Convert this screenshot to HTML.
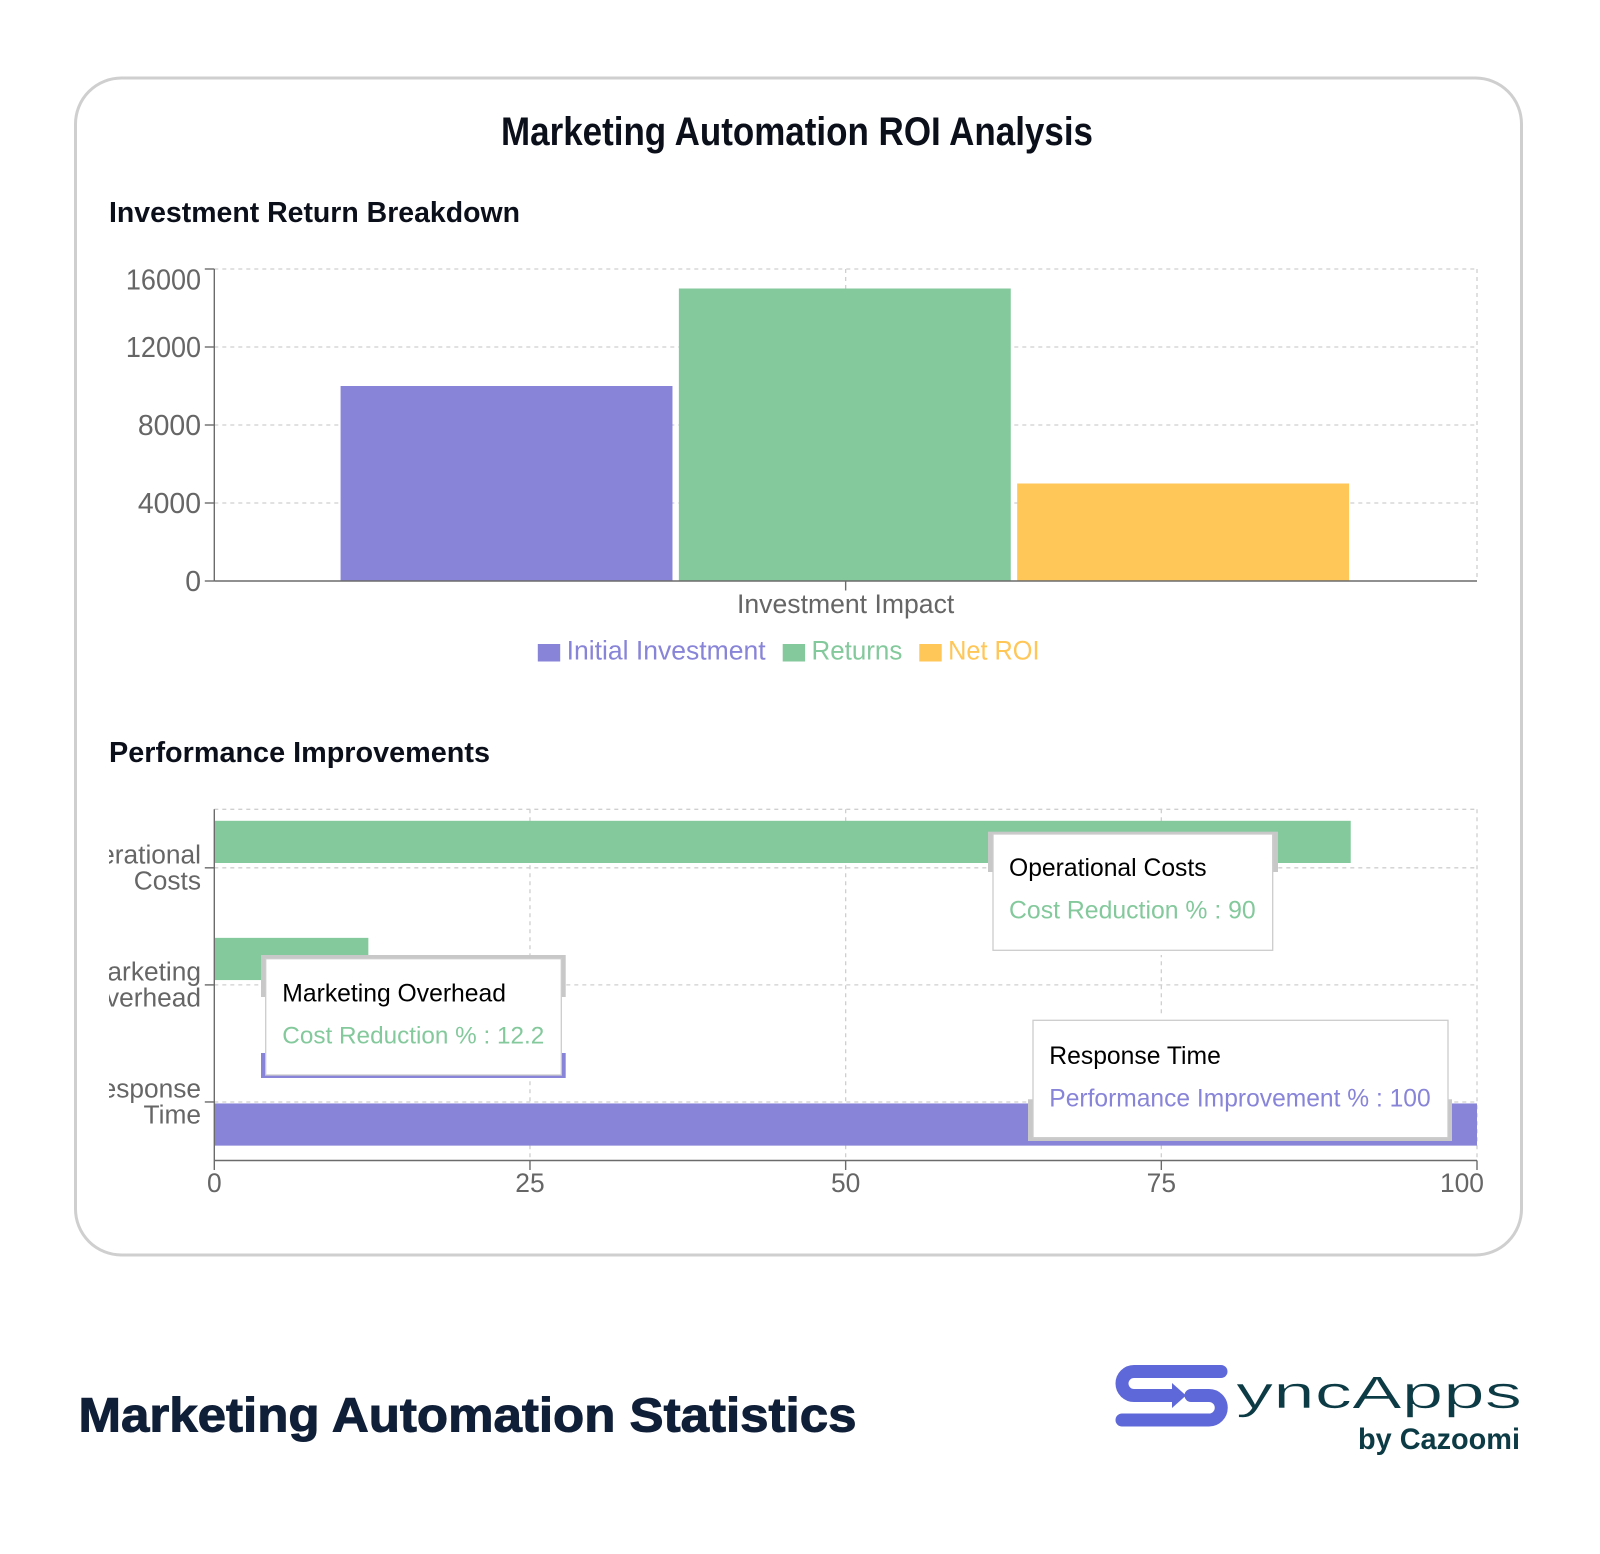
<!DOCTYPE html>
<html lang="en">
<head>
<meta charset="utf-8">
<title>Marketing Automation ROI Analysis</title>
<style>
  html, body { margin: 0; padding: 0; background: #fff; }
  svg { display: block; }
  text { font-family: "Liberation Sans", sans-serif; }
</style>
</head>
<body>
<svg id="canvas" xmlns="http://www.w3.org/2000/svg" width="1600" height="1554" viewBox="0 0 1600 1554">
  <defs>
    <clipPath id="y-label-clip"><rect x="109" y="790" width="120" height="400"/></clipPath>
  </defs>
  <rect x="0" y="0" width="1600" height="1554" fill="#ffffff"/>
  <rect x="75.5" y="78" width="1446" height="1177" rx="46" ry="46" fill="#ffffff" stroke="#cfcfcf" stroke-width="3"/>
  <text x="501" y="145" font-size="39.5" font-weight="700" fill="#0b0f1a" textLength="592" lengthAdjust="spacingAndGlyphs">Marketing Automation ROI Analysis</text>
  <text x="109" y="222" font-size="29" font-weight="700" fill="#0b0f1a" textLength="411" lengthAdjust="spacingAndGlyphs">Investment Return Breakdown</text>
  <text x="109" y="762" font-size="29" font-weight="700" fill="#0b0f1a" textLength="381" lengthAdjust="spacingAndGlyphs">Performance Improvements</text>

  <g id="investment-chart"></g>
  <g id="performance-chart"></g>

  <text x="78.5" y="1431.7" font-size="48" font-weight="700" fill="#101f38" stroke="#101f38" stroke-width="1" textLength="778" lengthAdjust="spacingAndGlyphs">Marketing Automation Statistics</text>

  <g>
    <path d="M1221 1371.5 H1134 A12 12 0 0 0 1134 1395.5 H1174" fill="none" stroke="#5f68d8" stroke-width="13" stroke-linecap="round"/>
    <polygon points="1172,1383 1186,1395.5 1172,1408" fill="#5f68d8"/>
    <path d="M1191 1395.5 H1209 A12.2 12.2 0 0 1 1209 1420 H1122" fill="none" stroke="#5f68d8" stroke-width="13" stroke-linecap="round"/>
    <text x="1236" y="1408" font-size="45" fill="#0d3b45" stroke="#ffffff" stroke-width="0.6" textLength="286" lengthAdjust="spacingAndGlyphs">yncApps</text>
    <text x="1358" y="1449" font-size="30" font-weight="700" fill="#0d3b45" textLength="162" lengthAdjust="spacingAndGlyphs">by Cazoomi</text>
  </g>
</svg>
<script>
// ---- Investment chart data ----
var investCategory = 'Investment Impact';
var investSeriesNames = ['Initial Investment', 'Returns', 'Net ROI'];
var investValues = [10000, 15000, 5000];
var investTicks = [0, 4000, 8000, 12000, 16000];

// ---- Performance chart data ----
var perfCategories = [['Operational', 'Costs'], ['Marketing', 'Overhead'], ['Response', 'Time']];
var perfCategoryNames = ['Operational Costs', 'Marketing Overhead', 'Response Time'];
var costReduction = [90, 12.2, null];
var perfImprovement = [null, null, 100];
var perfTicks = [0, 25, 50, 75, 100];

var PURPLE = '#8884d8', GREEN = '#84c99c', YELLOW = '#ffc658';
var investColors = [PURPLE, GREEN, YELLOW];
var AXIS = '#6b6b6b', GRID = '#cfcfcf', LABEL = '#666666';
var NS = 'http://www.w3.org/2000/svg';

function el(tag, attrs, parent, text) {
  var n = document.createElementNS(NS, tag);
  for (var k in attrs) n.setAttribute(k, attrs[k]);
  if (text !== undefined) n.textContent = text;
  parent.appendChild(n);
  return n;
}
function kebab(s) { return String(s).toLowerCase().replace(/[^a-z0-9]+/g, '-'); }
// Reference face has a narrow "1": width of a numeric label in em.
function numericWidth(s) {
  var w = 0;
  String(s).split('').forEach(function (c) { w += c === '1' ? 0.42 : 0.556; });
  return w;
}

var plotLeft = 214.3, plotRight = 1477;

// ===== Investment chart =====
(function () {
  var g = document.getElementById('investment-chart');
  var top = 269, bottom = 581, maxV = investTicks[investTicks.length - 1];
  function yScale(v) { return bottom - (v / maxV) * (bottom - top); }
  var bandW = plotRight - plotLeft;
  var pad = bandW * 0.1, gap = 6.4;
  var barW = 331.9;
  var centerX = (plotLeft + plotRight) / 2;

  investTicks.forEach(function (t) {
    if (t === 0) return;
    var line = el('line', {x1: plotLeft, x2: plotRight, y1: yScale(t), y2: yScale(t), stroke: GRID, 'stroke-width': 1.3, 'stroke-dasharray': '4 4'}, g);
    
    
  });
  [centerX, plotRight].forEach(function (x, i) {
    var line = el('line', {x1: x, x2: x, y1: top, y2: bottom, stroke: GRID, 'stroke-width': 1.3, 'stroke-dasharray': '4 4'}, g);
    
    
  });

  investValues.forEach(function (v, i) {
    var y = yScale(v);
    var r = el('rect', {x: plotLeft + pad + i * (barW + gap), y: y, width: barW, height: bottom - y, fill: investColors[i]}, g);
    
    
  });

  var yAxis = el('line', {x1: plotLeft, x2: plotLeft, y1: top, y2: bottom, stroke: AXIS, 'stroke-width': 1.4}, g);
  
  
  var xAxis = el('line', {x1: plotLeft, x2: plotRight, y1: bottom, y2: bottom, stroke: AXIS, 'stroke-width': 1.4}, g);
  
  

  var tickFont = 28.4;
  investTicks.forEach(function (t) {
    var y = yScale(t);
    var tick = el('line', {x1: plotLeft - 9.5, x2: plotLeft, y1: y, y2: y, stroke: AXIS, 'stroke-width': 1.4}, g);
    
    
    var label = el('text', {x: 201, y: Math.max(y, top + 10.5) + 9.9, 'text-anchor': 'end', 'font-size': tickFont, fill: LABEL, textLength: numericWidth(t) * tickFont, lengthAdjust: 'spacingAndGlyphs'}, g, String(t));
    
    
  });

  var xTick = el('line', {x1: centerX, x2: centerX, y1: bottom, y2: bottom + 9.5, stroke: AXIS, 'stroke-width': 1.4}, g);
  
  
  var xLabel = el('text', {x: centerX, y: 613, 'text-anchor': 'middle', 'font-size': 26.6, fill: LABEL}, g, investCategory);
  
  

  var legendX = [537.8, 782.7, 919.3];
  var legendTextWidth = [199, 90.8, 91.4];
  investSeriesNames.forEach(function (name, i) {
    var item = el('g', {}, g);
    
    
    var sw = el('rect', {x: legendX[i], y: 644, width: 22.4, height: 17.5, fill: investColors[i]}, item);
    
    
    var tx = el('text', {x: legendX[i] + 28.8, y: 659.5, 'font-size': 26.4, fill: investColors[i], textLength: legendTextWidth[i], lengthAdjust: 'spacingAndGlyphs'}, item, name);
    
    
  });
})();

// ===== Performance chart =====
(function () {
  var g = document.getElementById('performance-chart');
  var top = 809.3, bottom = 1160.5, maxV = perfTicks[perfTicks.length - 1];
  function xScale(v) { return plotLeft + (v / maxV) * (plotRight - plotLeft); }
  var band = (bottom - top) / perfCategories.length;
  function bandY(i) { return top + band * i; }
  var barH = 42.2, firstOffset = 11.5, secondOffset = 60;

  var topGrid = el('line', {x1: plotLeft, x2: plotRight, y1: top, y2: top, stroke: GRID, 'stroke-width': 1.3, 'stroke-dasharray': '4 4'}, g);
  
  
  perfCategories.forEach(function (c, i) {
    var y = bandY(i) + band / 2;
    var line = el('line', {x1: plotLeft, x2: plotRight, y1: y, y2: y, stroke: GRID, 'stroke-width': 1.3, 'stroke-dasharray': '4 4'}, g);
    
    
  });
  perfTicks.forEach(function (t) {
    if (t === 0) return;
    var line = el('line', {x1: xScale(t), x2: xScale(t), y1: top, y2: bottom, stroke: GRID, 'stroke-width': 1.3, 'stroke-dasharray': '4 4'}, g);
    
    
  });

  costReduction.forEach(function (v, i) {
    if (v === null) return;
    var r = el('rect', {x: plotLeft, y: bandY(i) + firstOffset, width: xScale(v) - plotLeft, height: barH, fill: GREEN}, g);
    
    
  });
  perfImprovement.forEach(function (v, i) {
    if (v === null) return;
    var r = el('rect', {x: plotLeft, y: bandY(i) + secondOffset, width: xScale(v) - plotLeft, height: barH, fill: PURPLE}, g);
    
    
  });

  var yAxis = el('line', {x1: plotLeft, x2: plotLeft, y1: top, y2: bottom, stroke: AXIS, 'stroke-width': 1.4}, g);
  
  
  var xAxis = el('line', {x1: plotLeft, x2: plotRight, y1: bottom, y2: bottom, stroke: AXIS, 'stroke-width': 1.4}, g);
  
  

  var labelGroup = el('g', {'clip-path': 'url(#y-label-clip)'}, g);
  
  
  perfCategories.forEach(function (lines, i) {
    var y = bandY(i) + band / 2;
    var tick = el('line', {x1: plotLeft - 9.5, x2: plotLeft, y1: y, y2: y, stroke: AXIS, 'stroke-width': 1.4}, g);
    
    
    lines.forEach(function (word, j) {
      var t = el('text', {x: 201, y: y - 4.5 + j * 26, 'text-anchor': 'end', 'font-size': 26.3, fill: LABEL}, labelGroup, word);
      
      
    });
  });

  perfTicks.forEach(function (t) {
    var x = xScale(t);
    var tick = el('line', {x1: x, x2: x, y1: bottom, y2: bottom + 9.5, stroke: AXIS, 'stroke-width': 1.4}, g);
    
    
    var label = el('text', {x: t === maxV ? 1484 : x, y: 1192, 'text-anchor': t === maxV ? 'end' : 'middle', 'font-size': 26.4, fill: LABEL}, g, String(t));
    
    
  });

  function band2(parent, x, y, w, h, fill, name) {
    var r = el('rect', {x: x, y: y, width: w, height: h, fill: fill}, parent);
    
    
    return r;
  }
  function card(parent, x, y, w, h, titleText, lineText, color, titleBase, lineBase, textX, lineFont) {
    var r = el('rect', {x: x, y: y, width: w, height: h, fill: '#ffffff', stroke: '#cccccc', 'stroke-width': 1.3}, parent);
    
    
    var t1 = el('text', {x: textX, y: titleBase, 'font-size': 24.7, fill: '#000000'}, parent, titleText);
    
    
    var t2 = el('text', {x: textX, y: lineBase, 'font-size': lineFont, fill: color}, parent, lineText);
    
    
  }

  // Operational Costs tooltip
  var tipA = el('g', {}, g);
  
  
  band2(tipA, 988, 872, 290, 83, '#ffffff', 'tooltip-halo');
  band2(tipA, 988, 831.7, 290, 40.3, '#c8c8c8', 'tooltip-ghost-border');
  card(tipA, 993, 834, 279.7, 116.3, perfCategoryNames[0], 'Cost Reduction % : ' + costReduction[0], GREEN, 876, 918.6, 1009, 24.8);

  // Marketing Overhead tooltip
  var tipB = el('g', {}, g);
  
  
  band2(tipB, 261, 997, 304.7, 56, '#ffffff', 'tooltip-halo');
  band2(tipB, 261, 955, 304.7, 42, '#c8c8c8', 'tooltip-ghost-border');
  band2(tipB, 261, 1053, 304.7, 25, PURPLE, 'tooltip-ghost-bar');
  card(tipB, 265.7, 958.7, 295.6, 116.3, perfCategoryNames[1], 'Cost Reduction % : ' + costReduction[1], GREEN, 1001.5, 1043.5, 282.3, 24.3);

  // Response Time tooltip
  var tipC = el('g', {}, g);
  
  
  band2(tipC, 1028, 1015, 424, 84, '#ffffff', 'tooltip-halo');
  band2(tipC, 1028, 1099.3, 424, 41.7, '#c8c8c8', 'tooltip-ghost-border');
  card(tipC, 1033, 1020.3, 415, 117.4, perfCategoryNames[2], 'Performance Improvement % : ' + perfImprovement[2], PURPLE, 1064, 1106.6, 1049.3, 24.6);
})();
</script>
</body>
</html>
